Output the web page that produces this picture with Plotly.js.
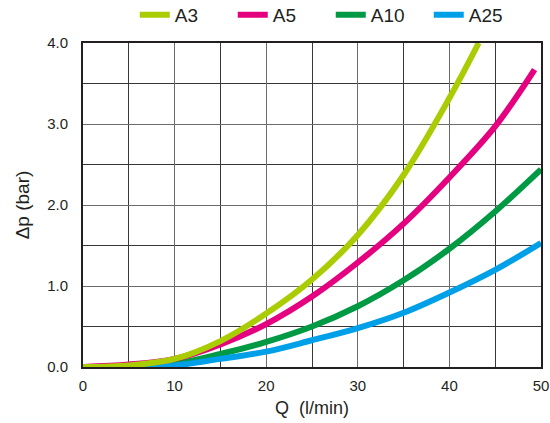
<!DOCTYPE html>
<html>
<head>
<meta charset="utf-8">
<script src="https://cdn.plot.ly/plotly-3.0.1.min.js"></script>
<style>html,body{margin:0;padding:0;background:#fff;}#chart{width:550px;height:423px;}</style>
</head>
<body>
<div id="chart"></div>
<script>
// Flow rate Q (l/min) and pressure drop Δp (bar)
const qA3  = [0, 5, 10, 15, 20, 25, 30, 35, 40, 43.2];
const pA3  = [0, 0.02, 0.1, 0.32, 0.66, 1.08, 1.63, 2.37, 3.32, 4.0];
const qA5  = [0, 5, 10, 15, 20, 25, 30, 35, 40, 45, 49.3];
const pA5  = [0, 0.03, 0.1, 0.28, 0.53, 0.87, 1.29, 1.77, 2.34, 2.97, 3.67];
const qA10 = [0, 5, 10, 15, 20, 25, 30, 35, 40, 45, 50];
const pA10 = [0, 0.01, 0.04, 0.16, 0.31, 0.5, 0.75, 1.07, 1.46, 1.92, 2.44];
const qA25 = [0, 5, 10, 15, 20, 25, 30, 35, 40, 45, 50];
const pA25 = [0, 0.005, 0.02, 0.1, 0.19, 0.33, 0.48, 0.67, 0.92, 1.2, 1.53];
const seriesNames = ['A3', 'A5', 'A10', 'A25'];
const xTicks = [0, 10, 20, 30, 40, 50];
const yTicks = [0, 1, 2, 3, 4];

const colors = {A3: '#AACC03', A5: '#E4007F', A10: '#009944', A25: '#00A0E9'};
const dataMap = {A3: [qA3, pA3], A5: [qA5, pA5], A10: [qA10, pA10], A25: [qA25, pA25]};
const drawOrder = ['A10', 'A25', 'A5', 'A3'];

const traces = drawOrder.map(name => ({
  type: 'scatter', mode: 'lines', name: name,
  x: dataMap[name][0], y: dataMap[name][1],
  line: {color: colors[name], width: 6, shape: 'spline', smoothing: 1},
  legendrank: seriesNames.indexOf(name) + 1
}));

const font = 'Liberation Sans, Arial, Helvetica, sans-serif';
const layout = {
  width: 550, height: 423,
  margin: {l: 83, r: 9, t: 43, b: 56, autoexpand: false},
  paper_bgcolor: '#fff', plot_bgcolor: '#fff',
  font: {family: font, color: '#231f20', size: 15},
  showlegend: true,
  legend: {
    orientation: 'h', x: 0.113, xanchor: 'left', y: 1.087, yanchor: 'middle',
    font: {size: 19, color: '#231f20', family: font},
    traceorder: 'normal', entrywidth: 53, entrywidthmode: 'pixels',
    bgcolor: 'rgba(0,0,0,0)'
  },
  xaxis: {
    range: [0, 50], tickvals: xTicks, ticktext: xTicks.map(String),
    showgrid: true, gridcolor: '#6e6a6a', gridwidth: 1,
    minor: {dtick: 5, showgrid: true, gridcolor: '#3a3636', gridwidth: 1},
    showline: true, linecolor: '#231f20', linewidth: 2, mirror: true,
    zeroline: false, ticks: '', ticklabelstandoff: 4,
    tickfont: {size: 15, family: font, color: '#231f20'},
    title: {text: 'Q&nbsp;&nbsp;(l/min)', font: {size: 18, family: font, color: '#231f20'}, standoff: 8}
  },
  yaxis: {
    range: [0, 4], tickvals: yTicks, ticktext: yTicks.map(v => v.toFixed(1)),
    showgrid: true, gridcolor: '#6e6a6a', gridwidth: 1,
    minor: {dtick: 0.5, showgrid: true, gridcolor: '#3a3636', gridwidth: 1},
    showline: true, linecolor: '#231f20', linewidth: 2, mirror: true,
    zeroline: false, ticks: '', ticklabelstandoff: 10,
    tickfont: {size: 15, family: font, color: '#231f20'},
    title: {text: 'Δp (bar)', font: {size: 19, family: font, color: '#231f20'}, standoff: 12}
  }
};

Plotly.newPlot('chart', traces, layout, {staticPlot: true, displayModeBar: false});
</script>
</body>
</html>
